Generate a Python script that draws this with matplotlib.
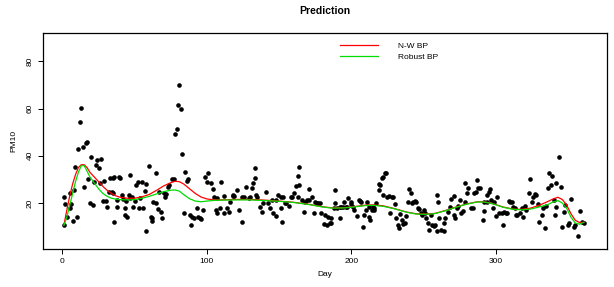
import matplotlib.pyplot as plt
from matplotlib.lines import Line2D

plt.rcParams['font.family'] = ['Liberation Sans', 'DejaVu Sans']

day = [
    1, 1, 2, 3, 5, 5, 6, 7, 8, 9,
    10, 11, 12, 13, 14, 15, 16, 17, 18, 19,
    20, 21, 22, 23, 24, 25, 26, 27, 28, 29,
    30, 31, 32, 33, 34, 35, 35, 36, 36, 38,
    38, 39, 40, 41, 42, 43, 43, 44, 45, 46,
    47, 47, 48, 49, 50, 51, 52, 53, 54, 55,
    56, 57, 58, 58, 60, 61, 62, 62, 63, 65,
    65, 66, 67, 68, 69, 70, 71, 72, 73, 74,
    76, 77, 78, 79, 80, 81, 82, 83, 84, 85,
    86, 87, 88, 89, 90, 91, 93, 94, 95, 96,
    97, 99, 100, 101, 103, 104, 105, 106, 107, 107,
    109, 110, 112, 112, 114, 115, 116, 118, 118, 119,
    121, 122, 124, 124, 126, 127, 129, 130, 131, 132,
    133, 133, 134, 135, 137, 138, 139, 141, 142, 144,
    145, 146, 148, 148, 149, 151, 151, 152, 153, 154,
    155, 157, 158, 159, 160, 162, 163, 163,
    164, 164, 166, 167, 168, 169, 171, 171, 173, 174,
    175, 176, 177, 178, 179, 181, 182, 183, 184, 185,
    186, 186, 188, 189, 189, 190, 192, 192, 193, 194,
    195, 196, 197, 198, 200, 200, 201, 202, 204, 205,
    206, 207, 208, 209, 210, 211, 212, 212, 213, 214,
    215, 216, 216, 217, 219, 219, 220, 221, 222, 223,
    224, 222, 225, 226, 227, 228, 229, 230, 231, 232,
    233, 234, 235, 236, 237, 238, 239, 240, 241, 242,
    243, 244, 245, 246, 247, 248, 249, 250, 251, 252,
    253, 254, 255, 256, 257, 258, 259, 259, 260, 261,
    262, 264, 264, 265, 267, 268, 269, 271, 271, 272,
    273, 274, 275, 276, 277, 279, 279, 280, 281, 283,
    284, 285, 286, 287, 288, 289, 291, 292, 292, 294,
    294, 295, 296, 297, 298, 299, 300, 301, 302, 304,
    305, 306, 307, 308, 309, 310, 311, 312, 313, 314,
    315, 317, 318, 319, 320, 321, 323, 324, 325, 326,
    327, 328, 329, 330, 332, 333, 334, 335, 336, 337,
    338, 339, 340, 341, 342, 342, 344, 345, 346, 347,
    348, 350, 351, 352, 354, 355, 357, 358, 360, 361,
]
pm10 = [
    22.4, 10.7, 19.6, 14, 18, 24.4, 19.5, 12.5, 25.5, 35.3,
    14.2, 42.9, 54.3, 60.4, 43.8, 26.9, 45.2, 45.9, 30.1, 19.9,
    39.6, 19.2, 29, 36, 38.2, 34.7, 28.6, 38.6, 21, 29.3,
    21, 18.4, 24.8, 30.4, 24.8, 30.7, 24.4, 12.1, 30.9, 21.3,
    18.2, 31.1, 30.7, 23.4, 21.6, 17.8, 14.9, 21, 13.9, 23.4,
    31.8, 22, 22.4, 18.2, 21, 27.6, 29, 17.8, 22, 29,
    17.8, 25.2, 8.3, 27.9, 35.8, 14.2, 12.5, 13.5, 20.6, 32.8,
    20.1, 17.3, 24.8, 16.3, 13.8, 24.4, 22.7, 23.8, 26.9, 27.6,
    30, 30, 49.4, 51.5, 61.4, 70, 60, 40.6, 15.6, 33.2,
    29.3, 30, 14.9, 10.7, 14.2, 13.5, 17.8, 13.9, 13.5, 13.1,
    17, 30.9, 29, 32.8, 28.3, 25.8, 22.7, 17, 15.6, 22,
    17.8, 29, 23, 15.6, 17.8, 16.3, 20.6, 23.4, 23.1, 23,
    25.5, 17, 12.1, 22.7, 22.7, 26.9, 22, 22.7, 26.2, 28.6,
    34.7, 30.7, 23.4, 22.7, 18.4, 16.3, 19.9, 24.8, 20.1, 17.8,
    21.3, 15.6, 14.5, 21.3, 23.4, 22.4, 17.8, 12, 22.4, 20.1,
    20.1, 18.7, 22.7, 22.7, 24.4, 27.2, 22.7, 31.4,
    35.3, 27.6, 21.3, 16.3, 20.6, 21.3, 25.8, 21.3, 22.4, 15.9,
    20.6, 20.1, 19.9, 20.1, 15.6, 11.1, 14.9, 10.7, 14.2, 11.4,
    13.5, 11.4, 17.8, 20.1, 25.5, 17.8, 18.2, 13.8, 18.2, 18.2,
    20.6, 18.2, 18.4, 22.2, 19.6, 20.6, 18.2, 17, 14.5, 21.3,
    21, 20.6, 10, 14.9, 17, 20.6, 18.4, 14.2, 12.8, 17,
    18.2, 17.8, 17, 19.9, 25.5, 28, 27.6, 30.4, 30.9, 32.6,
    32.6, 23.4, 22.7, 23, 15.6, 22.7, 22.4, 19.6, 13.5, 10.7,
    9.3, 15.4, 12.8, 11.1, 11.7, 14.5, 20.6, 25.8, 24.1, 20.1,
    20.6, 21, 20.6, 17.8, 17.3, 15.6, 14.9, 17, 15.6, 13.5,
    11.7, 8.6, 14.9, 10.7, 10.3, 10.7, 8.3, 23.4, 20.6, 13.5,
    8.6, 8.3, 11.4, 13.5, 16.3, 18.4, 21.6, 14.9, 23, 13.5,
    17.8, 18.7, 21.3, 15.9, 16.6, 20.6, 28.6, 24.4, 26.2, 17.8,
    17.8, 24.4, 24.8, 29.7, 26.2, 26.2, 12.8, 16.7, 20.6, 20.6,
    23.4, 24.8, 25.8, 21.3, 17.8, 20.6, 14.5, 22.7, 15.9, 15.6,
    10.7, 16.3, 15.6, 15.6, 21, 20.6, 20.6, 18.2, 17.8, 14.9,
    14.9, 15.6, 17.8, 14.2, 18.7, 17, 24.4, 30.1, 20.6, 22.7,
    23.8, 23.4, 19.6, 12.1, 14.9, 17.8, 9.3, 18.7, 26.2, 32.8,
    27.6, 31.4, 21.3, 14.9, 28.6, 18.4, 39.6, 26.6, 10, 16.3,
    19.2, 10.7, 11.4, 21.6, 9.7, 10.7, 6.1, 16.7, 12.1, 11.7,
]

# fitted curves, read at these days
curve_day = [1, 3, 5, 7, 9, 11, 13, 15, 17, 19,
             22, 25, 28, 31, 34, 37, 40, 45, 50, 55,
             60, 65, 70, 75, 78, 81, 84, 88, 92, 96,
             100, 105, 110, 120, 130, 140, 150, 160, 170, 180,
             187, 195, 200, 210, 215, 222, 230, 238, 245, 252,
             258, 265, 272, 280, 287, 292, 298, 305, 312, 318,
             324, 330, 336, 340, 343, 346, 349, 352, 355, 358, 361]
nw_bp = [10.7, 17, 23, 28, 32, 35, 36.2, 36.2, 35, 33,
         31, 29, 27, 25.3, 24, 23, 22.4, 22, 22, 22.6,
         23.6, 25.3, 27.2, 28.6, 29.2, 29, 28, 26, 24, 22.5,
         21.7, 21.3, 21.3, 21.5, 21.5, 21.2, 20.8, 20.3, 19.5, 18.4,
         17.9, 18, 18.3, 19.1, 19.2, 18.8, 17.6, 16.2, 15.4, 15.3,
         15.6, 16.8, 18.2, 19.6, 20.5, 20.5, 19.7, 18.3, 17.4, 17.3,
         17.8, 19, 20.6, 21.8, 22.4, 21.5, 19.2, 15.5, 12.7, 11.7, 11.8]
robust_bp = [10.5, 14, 19, 24, 29, 33, 35.8, 35.8, 33.5, 31,
             28.5, 26, 24, 22.8, 22, 21.6, 21.4, 21.3, 21.4, 22,
             22.8, 23.8, 24.8, 25.4, 25.5, 25, 23.5, 21.8, 20.8, 20.5,
             20.8, 21.1, 21.2, 21.3, 21.3, 21, 20.7, 20.2, 19.4, 18.3,
             17.8, 17.9, 18.2, 18.9, 19, 18.6, 17.5, 16.1, 15.3, 15.2,
             15.5, 16.7, 18.1, 19.5, 20.4, 20.4, 19.6, 18.2, 17.3, 17.1,
             17.4, 18.3, 19.3, 20.5, 21, 20, 17.8, 14, 11.5, 11, 11.8]

W, H = 614, 287
fig = plt.figure(figsize=(W / 100, H / 100), dpi=100)
ax = fig.add_axes([43 / W, 38 / H, (607 - 43) / W, (249 - 33) / H])

ax.scatter(day, pm10, s=11, c="black", linewidths=0, zorder=2)
ax.plot(curve_day, nw_bp, color="#ff0000", lw=0.9, zorder=3)
ax.plot(curve_day, robust_bp, color="#00dd00", lw=0.9, zorder=3)

ax.set_xlim(-13.5, 377)
ax.set_ylim(0.5, 92)
ax.set_xticks([0, 100, 200, 300])
ax.set_yticks([20, 40, 60, 80])
ax.tick_params(direction="out", length=3.6, width=0.7, labelsize=6, pad=3)
for lab in ax.get_yticklabels():
    lab.set_rotation(90)
    lab.set_va("center")
for s in ax.spines.values():
    s.set_linewidth(0.9)

ax.set_xlabel("Day", fontsize=6, labelpad=4)
ax.set_ylabel("PM10", fontsize=6, labelpad=7)
ax.set_title("Prediction", fontsize=7.5, fontweight="bold", pad=14)

handles = [Line2D([0], [0], color="#ff0000", lw=0.9),
           Line2D([0], [0], color="#00dd00", lw=0.9)]
ax.legend(handles, ["N-W BP", "Robust BP"], loc="upper left",
          bbox_to_anchor=(340 / W, 1 - 42 / H), bbox_transform=fig.transFigure,
          frameon=False, borderpad=0, borderaxespad=0, handlelength=4.6,
          handletextpad=2.3, labelspacing=0.45, fontsize=6)

fig.savefig("out.png", dpi=100)
